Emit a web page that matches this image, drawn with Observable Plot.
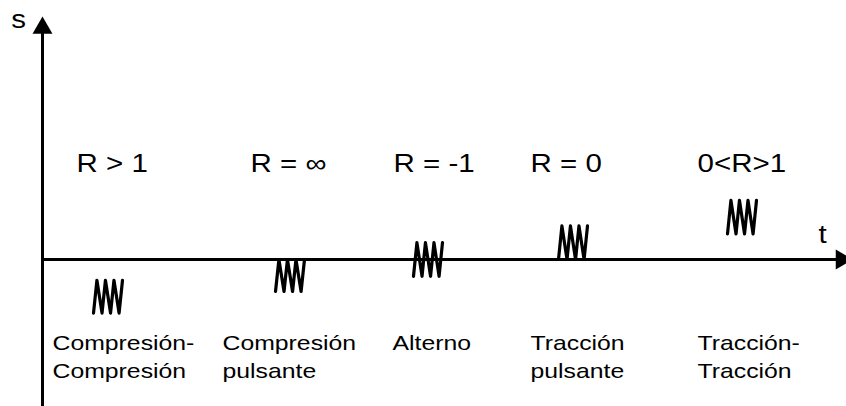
<!DOCTYPE html>
<html>
<head>
<meta charset="utf-8">
<script src="https://cdn.jsdelivr.net/npm/d3@7"></script>
<script src="https://cdn.jsdelivr.net/npm/@observablehq/plot@0.6"></script>
<style>
  html, body { margin: 0; padding: 0; background: #fff; }
  #chart svg { display: block; }
</style>
</head>
<body>
<div id="chart"></div>
<script>
// ---- data ----
const caseNames = ["Compresión-\nCompresión", "Compresión\npulsante", "Alterno", "Tracción\npulsante", "Tracción-\nTracción"];
const ratioLabels = ["R > 1", "R = ∞", "R = -1", "R = 0", "0<R>1"];
const ratioT = [3.4, 20.8, 35.1, 48.8, 65.5];   // left edge of R labels (t units)
const caseT = [1.0, 18.0, 35.0, 48.8, 65.5];    // left edge of case names
const waveT = [5.1, 23.3, 37.1, 51.6, 68.5];    // left edge of each cycle group
const sMax = [-1.3, 0, 1.05, 2.1, 3.7];         // maximum stress of each case
const sMin = [-3.35, -2.0, -1.05, 0, 1.6];      // minimum stress of each case
const waveLevel = [0, 1, 0, 1, 0, 1, 0, 1];     // zigzag: 0 = min, 1 = max
const wavePhase = [0, 0.118, 0.294, 0.412, 0.588, 0.706, 0.882, 1.0];
const waveWidth = 2.9;
const axisLabels = ["s", "t"];

// ---- build tables ----
const waveRows = [];
waveT.forEach((t0, i) => {
  waveLevel.forEach((lv, j) => {
    waveRows.push({case: i, t: t0 + wavePhase[j] * waveWidth, s: sMin[i] + lv * (sMax[i] - sMin[i])});
  });
});
const ratioRows = ratioLabels.map((label, i) => ({label, t: ratioT[i], s: 5.44}));
const caseRows = caseNames.map((label, i) => ({label, t: caseT[i], s: -4.38}));

const fontFamily = "'Liberation Sans', Arial, sans-serif";

const chart = Plot.plot({
  width: 846,
  height: 406,
  margin: 0,
  x: {domain: [-4.2, 80.4], axis: null},
  y: {domain: [-9.19, 16.19], axis: null},
  style: {fontFamily, background: "#fff", color: "#000"},
  marks: [
    // axes
    Plot.ruleY([0], {x1: 0, x2: 79.5, stroke: "#000", strokeWidth: 3}),
    Plot.ruleX([0], {y1: -9.19, y2: 14.2, stroke: "#000", strokeWidth: 3}),
    Plot.dot([{t: 0, s: 14.47}], {x: "t", y: "s", symbol: "triangle", r: 7.4, fill: "#000", stroke: null}),
    Plot.dot([{t: 79.9, s: 0}], {x: "t", y: "s", symbol: "triangle", r: 7.4, fill: "#000", stroke: null, rotate: 90}),
    Plot.text([{label: axisLabels[0], t: -2.4, s: 14.5}], {x: "t", y: "s", text: "label", fontSize: 25, lineAnchor: "bottom", textAnchor: "middle", fill: "#000"}),
    Plot.text([{label: axisLabels[1], t: 78.0, s: 1.0}], {x: "t", y: "s", text: "label", fontSize: 25, lineAnchor: "bottom", textAnchor: "middle", fill: "#000"}),
    // cycles
    Plot.line(waveRows, {x: "t", y: "s", z: "case", stroke: "#000", strokeWidth: 3.2, strokeLinejoin: "round", curve: "linear"}),
    // labels
    Plot.text(ratioRows, {x: "t", y: "s", text: "label", fontSize: 25, textAnchor: "start", lineAnchor: "bottom", fill: "#000"}),
    Plot.text(caseRows, {x: "t", y: "s", text: "label", fontSize: 21, textAnchor: "start", lineAnchor: "top", lineHeight: 1.34, fill: "#000"})
  ]
});

document.getElementById("chart").appendChild(chart);

// horizontal stretch of the text (the source image is wider than tall)
const k = 1.18;
d3.select(chart).selectAll("text").each(function () {
  const tspans = this.querySelectorAll("tspan");
  const items = tspans.length ? Array.from(tspans) : [this];
  items.forEach(el => {
    const len = el.getComputedTextLength();
    if (len > 0) {
      el.setAttribute("textLength", (len * k).toFixed(2));
      el.setAttribute("lengthAdjust", "spacingAndGlyphs");
    }
  });
});
</script>
</body>
</html>
